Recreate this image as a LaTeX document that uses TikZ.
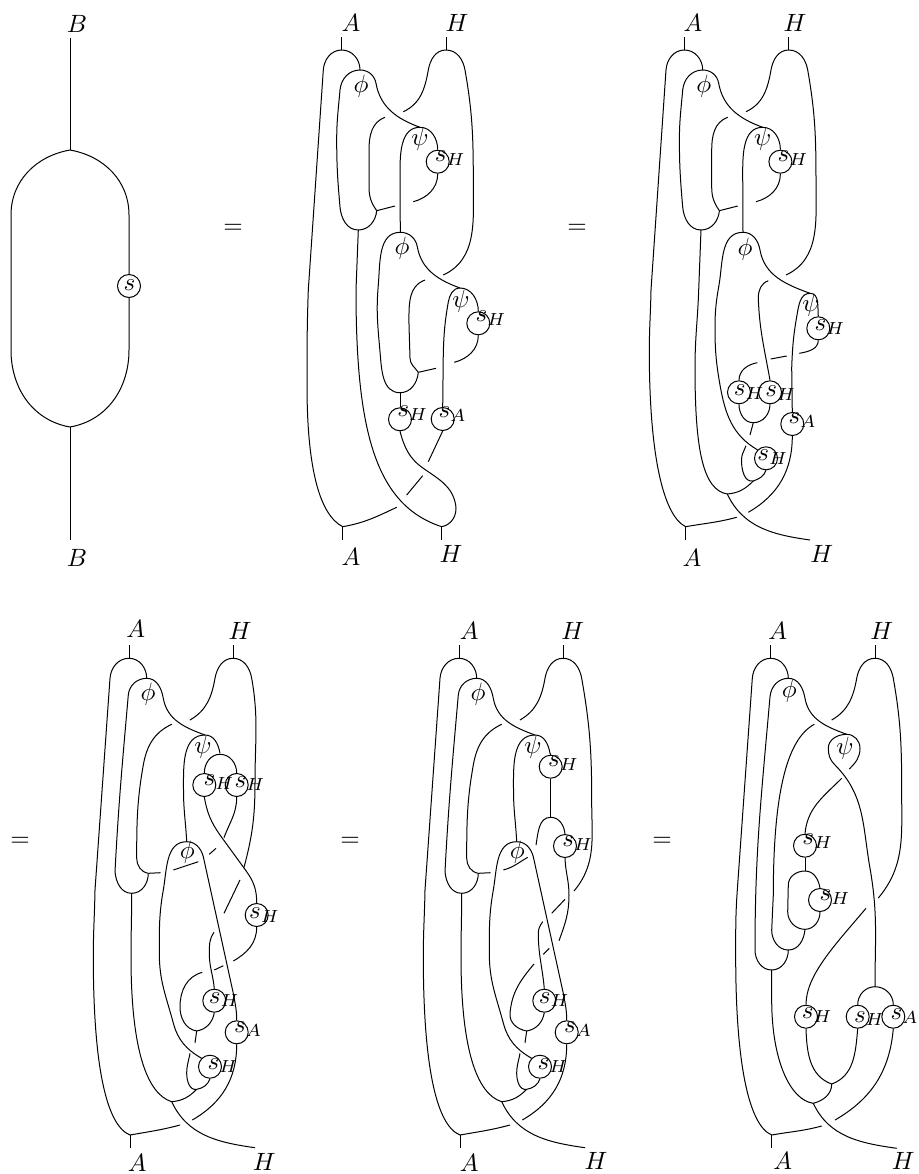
\documentclass[tikz,border=0pt]{standalone}
\usepackage{xcolor}
\usepackage{tikz}

\tikzset{
  lab/.style={inner sep=0pt},
  antibox/.style={circle, draw, minimum size=9.2pt, inner sep=0pt},
  antilab/.style={inner sep=0pt, anchor=base west, xshift=-2.34pt, yshift=-2.15pt}
}
\newcommand{\anti}[4]{%
  \node[antibox] (#1) at (#2) {};
  \node[antilab, shift={(#4)}] (#1t) at (#1) {$s_{#3}$};}

\newcommand{\headtwo}{%
  \coordinate (topa) at (341.7,37);
  \coordinate (capa) at (341.7,50);
  \coordinate (topb) at (446,37);
  \coordinate (capb) at (446,50);
  \coordinate (phia) at (360,70);
  \coordinate (psia) at (420,127.3);
  \coordinate (phib) at (400.3,232.3);
  \coordinate (outer) at (308.3,290);
  \coordinate (second) at (356,290);
  \coordinate (joina) at (358.3,230);
  \coordinate (joinb) at (376.7,210.7);
  \coordinate (enda) at (403.3,111.7);
  \coordinate (endb) at (443.3,275);
  \coordinate (endc) at (385,117.3);
  \coordinate (endd) at (395,206);
  \coordinate (ende) at (413.3,201.7);
  \node[lab] (phil) at (361,86.7) {$\phi$};
  \node[lab] (psil) at (420,139.3) {$\psi$};
  \anti{sa}{437.7,161.7}{H}{2.5,-5.5}
  \draw (topa) -- (capa);
  \draw (topb) -- (capb);
  \draw (outer) -- (323.3,70) to[out=86,in=180] (capa) to[out=0,in=90] (phia);
  \draw (joinb) to[out=265,in=0] (joina) to[out=180,in=275] (340,207) to[out=95,in=270] (336.7,140)
    to[out=90,in=265] (340,90) to[out=85,in=180] (phia) to[out=0,in=100] (376,83.3) to[out=280,in=160] (psia);
  \draw (enda) to[out=25,in=260] (428.3,70) to[out=80,in=180] (capb) to[out=0,in=100] (465,70)
    to[out=280,in=90] (473.3,183) to[out=270,in=25] (endb);
  \draw (endc) to[out=200,in=90] (369,150) -- (369,187) to[out=270,in=125] (joinb);
  \draw (joinb) -- (endd);
  \draw (joina) -- (second);
  \draw (phib) -- (400,173) to[out=90,in=180] (psia) to[out=0,in=90] (sa.north);
  \draw (sa.south) to[out=270,in=15] (ende);
}

\newcommand{\headfour}[1]{%
  \coordinate (topa) at (129,645);
  \coordinate (capa) at (129,658.3);
  \coordinate (topb) at (233,645);
  \coordinate (capb) at (233,658.3);
  \coordinate (phia) at (146.7,678.3);
  \coordinate (psia) at (205,735);
  \coordinate (psir) at (220,753.3);
  \coordinate (phib) at (186.7,841.7);
  \coordinate (outer) at (95,890);
  \coordinate (joina) at (131.7,893.3);
  \coordinate (joinb) at (148.3,873.3);
  \coordinate (joinc) at (171.7,1101.7);
  \coordinate (joind) at (196.7,1089.3);
  \coordinate (joine) at (196.7,1031);
  \coordinate (enda) at (190,720);
  \coordinate (endc) at (171.7,724.3);
  \coordinate (endd) at (160.5,872.7);
  \coordinate (ende) at (180,1125);
  \coordinate (endf) at (192.3,1120);
  \coordinate (endg) at (195,1042.7);
  \coordinate (endh) at (190,1053.3);
  \coordinate (botc) at (130,1148);
  \coordinate (bota) at (130,1135);
  \coordinate (both) at (255,1147.7);
  \node[lab] (phil) at (148,694) {$\phi$};
  \node[lab] (psil) at (203,747.3) {$\psi$};
  \node[lab] (phim) at (187.3,852.7) {$\phi$};
  \anti{sm}{214.3,1000.7}{H}{0,-3}
  \anti{sl}{210,1066.7}{H}{3,-3}
  \anti{sA}{236.7,1032.3}{A}{2.7,-5}
  \draw (topa) -- (capa);
  \draw (topb) -- (capb);
  \draw (bota) -- (botc);
  \draw (outer) -- (110,678.3) to[out=86,in=180] (capa) to[out=0,in=90] (phia);
  \draw (joinb) to[out=270,in=0] (joina) to[out=180,in=275] (115,871.7) to[out=87,in=265] (128.3,695)
    to[out=85,in=180] (phia) to[out=0,in=100] (163.3,698.3) to[out=280,in=160] (psia);
  \draw (enda) to[out=30,in=260] (215,678.3) to[out=80,in=180] (capb) to[out=0,in=100] (251.7,678.3) #1;
  \draw (endc) to[out=205,in=80] (143.3,765) to[out=260,in=90] (136.7,858.3) to[out=270,in=170] (joinb);
  \draw (joinb) -- (endd);
  \draw (phib) to[out=93,in=270] (183.5,790) to[out=90,in=180] (psia) to[out=0,in=100] (psir);
  \draw (sl.north west) to[out=150,in=285] (173.3,1023) to[out=105,in=270] (159.3,953.3)
    to[out=90,in=260] (163.3,890) to[out=80,in=180] (phib) to[out=0,in=105] (203.3,856.7)
    -- (233.3,993.3) to[out=280,in=90] (sA.north);
  \draw (outer) to[out=269,in=90] (93.3,956.7) .. controls (93.3,1060) and (105,1125) .. (bota)
    to[out=10,in=195] (ende);
  \draw (joina) to[out=270,in=90] (131,956.7) .. controls (131,1050) and (147,1094) .. (joinc)
    to[out=5,in=225] (joind);
  \draw (endh) to[out=260,in=90] (186.7,1073.3) to[out=270,in=190] (joind) to[out=10,in=250] (sl.south);
  \draw (joinc) to[out=295,in=172] (both);
  \draw (sA.south) to[out=270,in=30] (endf);
  \draw (joine) -- (endg);
}

\begin{document}
\begin{tikzpicture}[x=0.4pt, y=-0.4pt, line width=0.4pt]
  \useasboundingbox (0,0) rectangle (919,1174);

  \node[lab] (ba) at (77,24) {$B$};
  \node[lab] (bb) at (77,558) {$B$};
  \coordinate (bt) at (70,38);
  \coordinate (bu) at (70,150);
  \coordinate (bv) at (70,427);
  \coordinate (bw) at (70,540);
  \anti{bs}{129,286}{}{0,-1}
  \draw (bt) -- (bu);
  \draw (bv) -- (bw);
  \draw (bu) to[out=190,in=90] (11,215) -- (11,350) to[out=270,in=170] (bv);
  \draw (bu) to[out=350,in=90] (129,215) -- (bs.north);
  \draw (bs.south) -- (129,350) to[out=270,in=10] (bv);
  \node[lab] (eqa) at (233,229) {$=$};
  \node[lab] (eqb) at (577,229) {$=$};
  \node[lab] (eqc) at (20,842) {$=$};
  \node[lab] (eqd) at (350,842) {$=$};
  \node[lab] (eqe) at (662,842) {$=$};

  \begin{scope}[name prefix=b-]
    \headtwo
  \end{scope}
  \node[lab] (la) at (351,23) {$A$};
  \node[lab] (lb) at (457,23) {$H$};
  \node[lab] (lc) at (351,557) {$A$};
  \node[lab] (ld) at (451,554) {$H$};
  \node[lab] (phic) at (402,248.3) {$\phi$};
  \node[lab] (psic) at (461,301.7) {$\psi$};
  \anti{shb}{478.3,323.3}{H}{2.7,-6.7}
  \anti{shc}{400,419.3}{H}{2.7,-7.7}
  \anti{sac}{442.7,419}{A}{1.3,-6.7}
  \coordinate (psib) at (460,288);
  \coordinate (joinc) at (400,392.7);
  \coordinate (joind) at (418.3,372.3);
  \coordinate (endf) at (425,280);
  \coordinate (endg) at (436,368.3);
  \coordinate (endh) at (454.3,362.3);
  \coordinate (endi) at (428.3,461.7);
  \coordinate (endj) at (422.7,475.7);
  \coordinate (endk) at (406.7,495);
  \coordinate (endl) at (396.7,507.3);
  \coordinate (both) at (441.7,526.7);
  \coordinate (bota) at (342.7,526.7);
  \coordinate (boti) at (342.7,540);
  \coordinate (botj) at (441.7,540);
  \draw (bota) -- (boti);
  \draw (both) -- (botj);
  \draw (joind) to[out=265,in=0] (joinc) to[out=180,in=275] (380,351.7) to[out=95,in=265] (378.3,285)
    to[out=85,in=180] (b-phib) to[out=0,in=100] (417.3,246.7) to[out=280,in=160] (psib);
  \draw (endf) to[out=200,in=90] (409,325) -- (410,358) to[out=270,in=125] (joind);
  \draw (joind) -- (endg);
  \draw (sac.north) -- (443.3,352) to[out=88,in=260] (448.3,302) to[out=80,in=180] (psib)
    to[out=0,in=90] (shb.north);
  \draw (shb.south) to[out=270,in=15] (endh);
  \draw (joinc) -- (shc.north);
  \draw (shc.south) to[out=285,in=145] (423.3,468.3) to[out=325,in=100] (455.7,505)
    to[out=280,in=10] (both) .. controls (375,505) and (356,430) .. (b-second);
  \draw (b-outer) to[out=268,in=90] (307,385) .. controls (307,470) and (320,515) .. (bota)
    to[out=10,in=205] (endl);
  \draw (sac.south) -- (endi);
  \draw (endj) -- (endk);

  \begin{scope}[shift={(342.7,0)}, name prefix=c-]
    \headtwo
  \end{scope}
  \node[lab] (le) at (693,23) {$A$};
  \node[lab] (lf) at (795,23) {$H$};
  \node[lab] (lg) at (692,557.7) {$A$};
  \node[lab] (lh) at (821.7,554.3) {$H$};
  \node[lab] (phie) at (745,249.3) {$\phi$};
  \node[lab] (psie) at (811,305.7) {$\psi$};
  \anti{she}{818.3,328.3}{H}{1.7,-2.7}
  \anti{shf}{739,392.3}{H}{0.3,-2.3}
  \anti{shg}{770,392.3}{H}{0.7,-1.3}
  \anti{sag}{792.3,424}{A}{1.7,-5.7}
  \anti{shh}{766,458.3}{H}{-3.3,-2.7}
  \coordinate (psif) at (810,293.3);
  \coordinate (joing) at (753.3,422.7);
  \coordinate (joinh) at (753.3,481);
  \coordinate (joini) at (727.3,494);
  \coordinate (botf) at (685.7,526.7);
  \coordinate (botg) at (685.7,540);
  \coordinate (endm) at (768.3,280.7);
  \coordinate (endn) at (799.3,353.3);
  \coordinate (endo) at (786.7,356);
  \coordinate (endp) at (770.7,359);
  \coordinate (endq) at (757.3,362.7);
  \coordinate (endr) at (750,435);
  \coordinate (ends) at (748.3,512.3);
  \coordinate (endt) at (746,445.7);
  \coordinate (endu) at (810,540);
  \coordinate (endv) at (736.7,517.3);
  \draw (botf) -- (botg);
  \draw (shh.north west) to[out=150,in=280] (720,385) to[out=100,in=270] (715,328) to[out=90,in=260] (719,285)
    to[out=80,in=180] (c-phib) to[out=0,in=100] (760,250) to[out=280,in=160] (psif);
  \draw (sag.north) -- (791.7,368) to[out=88,in=260] (797,315) to[out=80,in=180] (psif)
    to[out=0,in=95] (she.north);
  \draw (endm) to[out=200,in=90] (758.3,298) to[out=272,in=100] (shg.north);
  \draw (she.south) to[out=270,in=10] (endn);
  \draw (endo) -- (endp);
  \draw (endq) to[out=190,in=90] (shf.north);
  \draw (shf.south) to[out=270,in=180] (joing) to[out=0,in=270] (shg.south);
  \draw (joing) -- (endr);
  \draw (sag.south) to[out=270,in=30] (ends);
  \draw (endt) to[out=250,in=90] (741.5,460) to[out=270,in=190] (joinh) to[out=20,in=250] (shh.south);
  \draw (c-second) to[out=268,in=90] (695,368) .. controls (695,450) and (703,490) .. (joini)
    to[out=5,in=225] (joinh);
  \draw (joini) to[out=295,in=172] (endu);
  \draw (c-outer) to[out=269,in=90] (649.3,351.7) .. controls (649.3,450) and (662,515) .. (botf)
    to[out=10,in=195] (endv);

  \begin{scope}[name prefix=d-]
    \headfour{to[out=280,in=90] (255,781.7) to[out=270,in=75] (244,867.3)}
  \end{scope}
  \node[lab] (li) at (135.7,629) {$A$};
  \node[lab] (lj) at (240,631) {$H$};
  \node[lab] (lk) at (137.3,1163) {$A$};
  \node[lab] (ll) at (264.3,1161.7) {$H$};
  \anti{shi}{204.3,785}{H}{4.7,-5}
  \anti{shj}{236.7,785}{H}{3.3,-3.3}
  \anti{shk}{256.7,915}{H}{-2.3,-1.7}
  \coordinate (peakj) at (220,754.3);
  \coordinate (fstart) at (173.3,870);
  \coordinate (fend) at (198.3,861.7);
  \coordinate (gstart) at (209.3,854.3);
  \coordinate (gend) at (216,848.3);
  \coordinate (hstart) at (240,880);
  \coordinate (hend) at (224,913.3);
  \coordinate (istart) at (223.3,965.7);
  \coordinate (iend) at (214.3,970);
  \coordinate (jstart) at (202.3,972.3);
  \coordinate (jend) at (214,932.3);
  \coordinate (kend) at (224,837.7);
  \coordinate (lend) at (233.3,961);
  \draw (shi.north) to[out=90,in=180] (peakj) to[out=0,in=90] (shj.north);
  \draw (shi.south) to[out=280,in=125] (220,835) -- (246.7,871.7) to[out=305,in=90] (shk.north);
  \draw (shj.south) to[out=270,in=70] (kend);
  \draw (fstart) -- (fend);
  \draw (gstart) -- (gend);
  \draw (hstart) -- (hend);
  \draw (shk.south) to[out=270,in=30] (lend);
  \draw (istart) -- (iend);
  \draw (jstart) to[out=195,in=90] (180,1006.7) to[out=270,in=170] (d-joine) to[out=10,in=260] (d-sm.south);
  \draw (d-sm.north) to[out=95,in=270] (209.3,953.3) to[out=90,in=235] (jend);

  \begin{scope}[shift={(330,0)}, name prefix=e-]
    \headfour{to[out=280,in=90] (261.7,801.7) to[out=270,in=50] (244,891)}
  \end{scope}
  \node[lab] (lm) at (469.3,631) {$A$};
  \node[lab] (ln) at (572.7,631) {$H$};
  \node[lab] (lo) at (469.3,1163) {$A$};
  \node[lab] (lp) at (596,1160.7) {$H$};
  \anti{shm}{550.7,766.7}{H}{2.7,-5.7}
  \anti{shn}{565,846}{H}{2.7,-5}
  \coordinate (joinm) at (550.7,817.3);
  \coordinate (mstart) at (536,845);
  \coordinate (nend) at (559,940.7);
  \coordinate (ostart) at (565,899.3);
  \coordinate (oend) at (551.7,913.3);
  \coordinate (pstart) at (549.3,948.3);
  \coordinate (pend) at (543.3,954.3);
  \coordinate (qstart) at (503.3,870);
  \coordinate (qend) at (527.7,857.3);
  \coordinate (rstart) at (534,964);
  \coordinate (rend) at (542.7,921.7);
  \draw (e-psir) -- (shm.north);
  \draw (shm.south) -- (joinm);
  \draw (mstart) to[out=80,in=180] (joinm) to[out=0,in=95] (shn.north);
  \draw (shn.south) to[out=272,in=90] (569,895) to[out=270,in=70] (nend);
  \draw (ostart) -- (oend);
  \draw (pstart) -- (pend);
  \draw (qstart) to[out=15,in=210] (qend);
  \draw (rstart) to[out=230,in=85] (510,1013.3) to[out=265,in=170] (e-joine) to[out=10,in=260] (e-sm.south);
  \draw (e-sm.north) to[out=95,in=270] (538.3,933.3) to[out=90,in=235] (rend);

  \node[lab] (lq) at (777.7,631) {$A$};
  \node[lab] (lr) at (881.7,631) {$H$};
  \node[lab] (ls) at (782.7,1160.7) {$A$};
  \node[lab] (lt) at (903.3,1160.7) {$H$};
  \node[lab] (phig) at (789.3,691.7) {$\phi$};
  \node[lab] (psig) at (845,748.3) {$\psi$};
  \anti{shq}{805,845.7}{H}{2.7,-6.7}
  \anti{shr}{820,900}{H}{5,-5}
  \anti{shs}{806,1016.7}{H}{1.3,-3.3}
  \anti{sht}{857.7,1016.7}{H}{1.7,0}
  \anti{sau}{893.3,1016.7}{A}{2.7,-2.7}
  \coordinate (topq) at (770.7,645);
  \coordinate (capq) at (770.7,658.3);
  \coordinate (topr) at (875,645);
  \coordinate (capr) at (875,658.3);
  \coordinate (phiq) at (788.3,678.3);
  \coordinate (psiq) at (846.7,734.3);
  \coordinate (joinq) at (771.7,970);
  \coordinate (joinr) at (788.3,950);
  \coordinate (joins) at (805,929.3);
  \coordinate (joint) at (805,871);
  \coordinate (joinu) at (875,986.7);
  \coordinate (joinv) at (831.7,1084);
  \coordinate (joinw) at (813.3,1103.3);
  \coordinate (botq) at (771.7,1135);
  \coordinate (botr) at (771.7,1148);
  \coordinate (endw) at (821.7,1126);
  \coordinate (endx) at (849.3,769);
  \coordinate (endy) at (831.7,720);
  \coordinate (endz) at (878.3,898);
  \coordinate (enap) at (814.3,724.3);
  \coordinate (enaq) at (841.7,778.3);
  \coordinate (enar) at (866,908.3);
  \coordinate (enas) at (896.7,1148.3);
  \coordinate (enat) at (835,1120);
  \draw (topq) -- (capq);
  \draw (topr) -- (capr);
  \draw (botq) -- (botr);
  \draw (phiq) to[out=90,in=0] (capq) to[out=180,in=86] (752.3,678.3) -- (737.3,890)
    to[out=266,in=90] (735.7,956.7) .. controls (735.7,1060) and (748,1125) .. (botq)
    to[out=10,in=195] (endw);
  \draw (joinr) to[out=270,in=0] (joinq) to[out=180,in=270] (755,950) to[out=90,in=265] (770,696.7)
    to[out=85,in=180] (phiq) to[out=0,in=100] (805,698.3) to[out=280,in=160] (psiq);
  \draw (endx) to[out=45,in=270] (860,748.3) to[out=90,in=0] (psiq) to[out=180,in=90] (828.3,748.3)
    to[out=270,in=135] (835,765) to[out=315,in=100] (870,868.3) to[out=280,in=90] (joinu);
  \draw (sht.north) to[out=90,in=180] (joinu) to[out=0,in=90] (sau.north);
  \draw (endy) to[out=30,in=260] (856.7,678.3) to[out=80,in=180] (capr) to[out=0,in=100] (893.3,678.3)
    to[out=280,in=90] (901.7,795) to[out=270,in=50] (endz);
  \draw (enap) .. controls (785,740) and (773.3,800) .. (773.3,895) -- (771.7,930)
    to[out=270,in=180] (joinr) to[out=0,in=265] (joins);
  \draw (shr.south) to[out=270,in=0] (joins) to[out=180,in=270] (787.7,911.7) -- (788.3,885)
    to[out=90,in=180] (joint) to[out=0,in=100] (shr.north);
  \draw (shq.south) -- (joint);
  \draw (shq.north) to[out=85,in=225] (enaq);
  \draw (enar) .. controls (835,945) and (806,975) .. (shs.north);
  \draw (shs.south) to[out=272,in=160] (joinv) to[out=20,in=265] (sht.south);
  \draw (joinv) to[out=270,in=15] (joinw) .. controls (790,1100) and (771.7,1060) .. (771.7,1000) -- (joinq);
  \draw (joinw) to[out=295,in=172] (enas);
  \draw (sau.south) to[out=265,in=30] (enat);
\end{tikzpicture}
\end{document}
